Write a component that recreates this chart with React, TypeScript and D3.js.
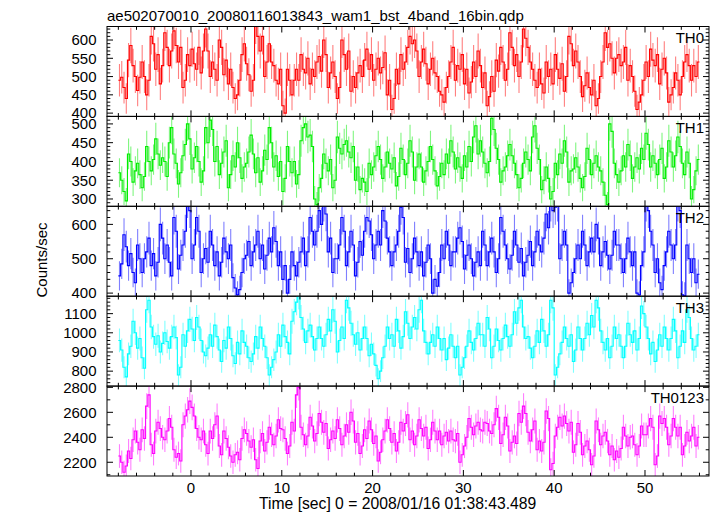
import React from "react";
import * as d3 from "d3";

// ---- data (counts/sec, 0.25 s bins starting at t = -8 s) ----
const TIME_START = -8;
const BIN_SEC = 0.25;

const TH0 = [
  490, 498, 470, 440, 545, 585, 530, 500, 462, 498, 540, 500, 450, 490, 610, 590, 520, 560, 480, 530,
  620, 580, 530, 570, 625, 585, 540, 580, 470, 490, 560, 530, 575, 535, 520, 580, 510, 570, 630, 570,
  500, 540, 520, 490, 600, 580, 505, 545, 480, 520, 470, 440, 450, 490, 560, 590, 535, 505, 460, 490,
  640, 610, 570, 610, 500, 540, 590, 540, 530, 490, 480, 520, 420, 400, 520, 490, 450, 490, 520, 490,
  560, 520, 510, 550, 480, 520, 500, 540, 555, 515, 600, 560, 470, 510, 540, 500, 440, 470, 600, 560,
  520, 570, 460, 500, 470, 510, 530, 500, 545, 575, 520, 560, 490, 520, 550, 510, 525, 565, 450, 490,
  410, 440, 520, 480, 560, 520, 540, 580, 610, 590, 600, 570, 500, 540, 575, 535, 480, 520, 550, 510,
  500, 460, 450, 430, 470, 500, 540, 580, 490, 530, 520, 560, 480, 520, 455, 485, 540, 500, 570, 530,
  470, 510, 420, 445, 500, 460, 545, 515, 580, 540, 490, 520, 620, 580, 530, 560, 500, 540, 630, 605,
  580, 540, 520, 490, 470, 520, 480, 455, 540, 500, 520, 480, 560, 520, 495, 535, 460, 500, 610, 590,
  530, 570, 540, 500, 445, 475, 510, 470, 450, 490, 420, 440, 500, 540, 620, 580, 590, 550, 510, 550,
  560, 530, 540, 580, 490, 530, 500, 460, 410, 430, 450, 490, 540, 500, 575, 545, 530, 560, 480, 520,
  550, 510, 430, 450, 470, 510, 490, 450, 500, 540, 560, 530, 490, 530, 500, 540,
];

const TH1 = [
  370, 350, 320, 295, 420, 400, 345, 375, 395, 365, 330, 360, 440, 400, 375, 405, 460, 420, 390, 410,
  400, 360, 450, 490, 420, 395, 340, 370, 415, 445, 500, 460, 380, 410, 440, 400, 345, 375, 490, 450,
  510, 485, 400, 440, 365, 395, 425, 455, 330, 365, 415, 385, 450, 410, 355, 385, 395, 425, 470, 420,
  370, 410, 345, 375, 430, 405, 490, 450, 385, 415, 360, 400, 320, 355, 440, 400, 370, 400, 340, 365,
  455, 490, 500, 465, 470, 440, 300, 285, 330, 355, 420, 395, 375, 405, 330, 350, 465, 435, 420, 445,
  455, 425, 410, 440, 350, 385, 325, 355, 345, 320, 395, 365, 385, 415, 440, 405, 355, 385, 425, 395,
  380, 410, 335, 360, 435, 405, 365, 395, 455, 425, 350, 385, 420, 385, 345, 375, 400, 440, 405, 375,
  335, 360, 395, 365, 420, 395, 455, 425, 380, 410, 385, 355, 415, 385, 440, 400, 465, 495, 420, 455,
  425, 395, 370, 400, 515, 485, 435, 405, 345, 375, 385, 415, 445, 415, 395, 365, 330, 355, 395, 425,
  405, 375, 465, 495, 435, 405, 325, 350, 385, 355, 300, 320, 395, 365, 420, 395, 455, 425, 345, 375,
  380, 410, 385, 355, 330, 360, 435, 405, 365, 395, 415, 385, 375, 345, 310, 285, 500, 480, 395, 365,
  345, 375, 415, 385, 445, 415, 355, 385, 410, 380, 435, 405, 475, 445, 385, 415, 395, 365, 405, 435,
  355, 385, 455, 425, 385, 415, 465, 440, 395, 365, 425, 395, 300, 325, 375, 405,
];

const TH2 = [
  450, 485, 570, 535, 480, 515, 460, 430, 540, 500, 460, 500, 520, 560, 480, 515, 450, 490, 600, 560,
  500, 540, 490, 450, 620, 580, 470, 510, 540, 580, 670, 640, 500, 540, 620, 580, 460, 500, 530, 490,
  580, 540, 480, 520, 450, 490, 560, 520, 500, 540, 445, 415, 395, 410, 460, 500, 510, 550, 480, 520,
  540, 580, 500, 540, 470, 510, 560, 520, 590, 550, 480, 520, 440, 480, 400, 440, 520, 480, 450, 490,
  520, 560, 480, 520, 620, 580, 540, 580, 640, 600, 660, 630, 520, 560, 460, 500, 500, 540, 620, 580,
  480, 520, 580, 540, 450, 490, 550, 510, 580, 620, 610, 570, 500, 540, 580, 540, 640, 610, 560, 520,
  480, 520, 540, 580, 650, 620, 490, 530, 460, 500, 560, 520, 480, 520, 450, 490, 540, 500, 400, 440,
  420, 460, 540, 500, 580, 540, 480, 520, 520, 560, 590, 550, 470, 510, 540, 500, 450, 490, 520, 480,
  580, 540, 480, 520, 560, 520, 460, 500, 620, 580, 540, 500, 470, 510, 580, 540, 490, 530, 450, 490,
  510, 550, 480, 520, 580, 540, 520, 560, 630, 590, 660, 640, 650, 660, 500, 540, 580, 540, 400, 430,
  460, 500, 540, 500, 580, 540, 480, 520, 560, 520, 600, 560, 480, 520, 550, 510, 470, 510, 580, 540,
  540, 500, 460, 500, 560, 520, 480, 520, 400, 395, 480, 520, 660, 640, 580, 540, 460, 500, 430, 410,
  480, 520, 580, 540, 500, 540, 660, 640, 395, 392, 540, 500, 460, 500, 430, 455,
];

const TH3 = [
  960, 910, 820, 770, 890, 930, 1060, 1000, 920, 970, 870, 815, 1120, 1170, 1030, 980, 940, 985, 900, 945,
  1000, 955, 920, 980, 1030, 975, 780, 820, 990, 930, 1010, 1070, 1020, 960, 1080, 1030, 960, 900, 880, 920,
  990, 930, 1040, 980, 910, 850, 960, 920, 1030, 970, 880, 840, 950, 890, 1010, 950, 930, 870, 850, 890,
  980, 920, 1030, 970, 930, 870, 780, 820, 860, 900, 990, 930, 1040, 980, 950, 890, 1060, 1110, 1160, 1190,
  1080, 1020, 950, 1010, 1040, 980, 910, 970, 1030, 970, 930, 990, 1070, 1010, 1120, 1060, 900, 960, 1030, 970,
  1170, 1130, 1050, 990, 940, 1000, 910, 970, 1030, 970, 880, 940, 890, 830, 760, 800, 870, 930, 1030, 970,
  990, 930, 1070, 1010, 920, 980, 1110, 1050, 970, 1030, 1080, 1020, 1120, 1170, 1010, 950, 890, 950, 990, 930,
  1030, 970, 910, 970, 860, 920, 990, 930, 870, 930, 780, 820, 870, 930, 1010, 950, 910, 970, 1050, 990,
  990, 930, 1080, 1020, 870, 930, 1020, 960, 910, 970, 1040, 980, 930, 990, 1110, 1050, 1130, 1170, 1030, 970,
  980, 920, 870, 930, 1010, 950, 1070, 1010, 930, 990, 1170, 1130, 780, 820, 890, 950, 1030, 970, 930, 990,
  850, 910, 1030, 970, 910, 970, 1050, 990, 1090, 1030, 1170, 1130, 1010, 950, 910, 970, 870, 930, 1030, 970,
  990, 930, 870, 930, 1050, 990, 950, 1010, 910, 970, 1140, 1100, 1030, 970, 890, 950, 850, 910, 990, 930,
  1030, 970, 910, 970, 1070, 1010, 870, 930, 1010, 950, 1120, 1080, 970, 910, 930, 990,
];

const TH0123 = [
  2250, 2200, 2120, 2170, 2290, 2230, 2380, 2450, 2360, 2300, 2460, 2390, 2650, 2740, 2340, 2270, 2450, 2520, 2470, 2400,
  2380, 2450, 2550, 2480, 2300, 2240, 2270, 2210, 2500, 2570, 2620, 2690, 2640, 2570, 2470, 2400, 2380, 2450, 2340, 2270,
  2450, 2390, 2500, 2570, 2330, 2260, 2450, 2390, 2320, 2250, 2200, 2260, 2280, 2220, 2390, 2460, 2430, 2370, 2320, 2380,
  2220, 2150, 2370, 2430, 2290, 2360, 2480, 2420, 2340, 2410, 2540, 2470, 2460, 2390, 2270, 2330, 2520, 2450, 2740, 2800,
  2480, 2420, 2340, 2410, 2560, 2490, 2370, 2430, 2590, 2520, 2440, 2510, 2310, 2380, 2450, 2390, 2540, 2470, 2340, 2410,
  2500, 2440, 2600, 2530, 2360, 2430, 2270, 2330, 2460, 2390, 2530, 2460, 2350, 2410, 2210, 2280, 2380, 2450, 2540, 2470,
  2360, 2430, 2290, 2360, 2520, 2450, 2510, 2580, 2380, 2450, 2340, 2410, 2540, 2470, 2410, 2480, 2310, 2380, 2520, 2450,
  2380, 2450, 2340, 2410, 2440, 2370, 2450, 2380, 2370, 2430, 2200, 2260, 2330, 2400, 2550, 2480, 2420, 2490, 2520, 2460,
  2450, 2520, 2510, 2450, 2430, 2500, 2630, 2560, 2350, 2420, 2560, 2490, 2290, 2360, 2410, 2350, 2590, 2520, 2650, 2590,
  2440, 2370, 2460, 2530, 2300, 2370, 2290, 2360, 2610, 2550, 2140, 2190, 2410, 2480, 2560, 2490, 2570, 2510, 2450, 2520,
  2280, 2340, 2510, 2440, 2260, 2330, 2370, 2300, 2180, 2250, 2530, 2460, 2340, 2410, 2440, 2370, 2260, 2330, 2220, 2290,
  2240, 2310, 2480, 2410, 2330, 2400, 2410, 2340, 2260, 2330, 2490, 2420, 2420, 2490, 2550, 2480, 2180, 2250, 2570, 2510,
  2550, 2480, 2340, 2410, 2550, 2480, 2410, 2480, 2260, 2330, 2440, 2370, 2410, 2480, 2330, 2400,
];

const SERIES = [TH0, TH1, TH2, TH3, TH0123];
const PANEL_NAMES = ["TH0", "TH1", "TH2", "TH3", "TH0123"];
const PANEL_COLORS = ["#ff0000", "#00ee00", "#0000ff", "#00ffff", "#ff00ff"];
const Y_DOMAINS: [number, number][] = [
  [391, 637],
  [280.5, 520],
  [391, 652.6],
  [722, 1191],
  [2090, 2810],
];
const Y_MAJOR_STEP = [50, 50, 100, 100, 200];
const Y_MINOR_STEP = [10, 10, 20, 20, 100];
const X_DOMAIN: [number, number] = [-9.25, 57.05];
const X_MAJOR_STEP = 10;
const X_MINOR_STEP = 2;

const TITLE = "ae502070010_20080116013843_wam1_bst_4band_16bin.qdp";
const X_LABEL = "Time [sec] 0 = 2008/01/16 01:38:43.489";
const Y_LABEL = "Counts/sec";

// ---- layout ----
const W = 717;
const H = 516;
const LEFT = 107;
const RIGHT = 709;
const TOP = 26.5;
const PANEL_H = 89.9;
const FONT = "'Liberation Sans', Arial, Helvetica, sans-serif";
const FS = 15;
const MAJ = 6;
const MIN = 3.3;

function ticksBetween(lo: number, hi: number, step: number) {
  const out: number[] = [];
  const start = Math.ceil(lo / step - 1e-9) * step;
  for (let v = start; v <= hi + 1e-9; v += step) out.push(Math.round(v * 1000) / 1000);
  return out;
}

export default function App() {
  const x = d3.scaleLinear().domain(X_DOMAIN).range([LEFT, RIGHT]);
  const xMajor = ticksBetween(X_DOMAIN[0], X_DOMAIN[1], X_MAJOR_STEP);
  const xMinor = ticksBetween(X_DOMAIN[0], X_DOMAIN[1], X_MINOR_STEP).filter(
    (v) => Math.abs(v % X_MAJOR_STEP) > 1e-6
  );

  const panels = SERIES.map((vals, p) => {
    const top = TOP + p * PANEL_H;
    const bottom = top + PANEL_H;
    const y = d3.scaleLinear().domain(Y_DOMAINS[p]).range([bottom, top]);
    const yMajor = ticksBetween(Y_DOMAINS[p][0], Y_DOMAINS[p][1], Y_MAJOR_STEP[p]);
    const yMinor = ticksBetween(Y_DOMAINS[p][0], Y_DOMAINS[p][1], Y_MINOR_STEP[p]).filter(
      (v) => Math.abs(v % Y_MAJOR_STEP[p]) > 1e-6
    );
    const pts: [number, number][] = vals.map((v, i) => [TIME_START + i * BIN_SEC, v]);
    pts.push([TIME_START + vals.length * BIN_SEC, vals[vals.length - 1]]);
    const line = d3
      .line<[number, number]>()
      .x((d) => x(d[0]))
      .y((d) => y(d[1]))
      .curve(d3.curveStepAfter);
    const color = PANEL_COLORS[p];
    const clipId = `clip${p}`;
    return (
      <g key={p}>
        <defs>
          <clipPath id={clipId}>
            <rect x={LEFT} y={top} width={RIGHT - LEFT} height={PANEL_H} />
          </clipPath>
        </defs>
        <g clipPath={`url(#${clipId})`}>
          {vals.map((v, i) => {
            const err = Math.sqrt(v / BIN_SEC);
            const tc = TIME_START + (i + 0.5) * BIN_SEC;
            return (
              <line
                key={i}
                x1={x(tc)}
                x2={x(tc)}
                y1={y(v - err)}
                y2={y(v + err)}
                stroke={color}
                strokeOpacity={0.5}
                strokeWidth={1.1}
              />
            );
          })}
          <path d={line(pts) || ""} fill="none" stroke={color} strokeWidth={1.1} />
        </g>
        <rect x={LEFT} y={top} width={RIGHT - LEFT} height={PANEL_H} fill="none" stroke="#000" strokeWidth={1} />
        {xMajor.map((t) => (
          <g key={"xM" + t}>
            <line x1={x(t)} x2={x(t)} y1={top} y2={top + MAJ} stroke="#000" />
            <line x1={x(t)} x2={x(t)} y1={bottom} y2={bottom - MAJ} stroke="#000" />
          </g>
        ))}
        {xMinor.map((t) => (
          <g key={"xm" + t}>
            <line x1={x(t)} x2={x(t)} y1={top} y2={top + MIN} stroke="#000" />
            <line x1={x(t)} x2={x(t)} y1={bottom} y2={bottom - MIN} stroke="#000" />
          </g>
        ))}
        {yMajor.map((v) => (
          <g key={"yM" + v}>
            <line x1={LEFT} x2={LEFT + MAJ} y1={y(v)} y2={y(v)} stroke="#000" />
            <line x1={RIGHT} x2={RIGHT - MAJ} y1={y(v)} y2={y(v)} stroke="#000" />
            <text x={LEFT - 10.5} y={y(v) + 5.3} textAnchor="end" fontSize={FS} fontFamily={FONT} fill="#000">
              {v}
            </text>
          </g>
        ))}
        {yMinor.map((v) => (
          <g key={"ym" + v}>
            <line x1={LEFT} x2={LEFT + MIN} y1={y(v)} y2={y(v)} stroke="#000" />
            <line x1={RIGHT} x2={RIGHT - MIN} y1={y(v)} y2={y(v)} stroke="#000" />
          </g>
        ))}
        <text x={704} y={top + 16.5} textAnchor="end" fontSize={FS} fontFamily={FONT} fill="#000">
          {PANEL_NAMES[p]}
        </text>
      </g>
    );
  });

  const bottomAxis = TOP + 5 * PANEL_H;

  return (
    <svg
      width={W}
      height={H}
      viewBox={`0 0 ${W} ${H}`}
      style={{ position: "absolute", left: 0, top: 0, background: "#fff" }}
    >
      <rect x={0} y={0} width={W} height={H} fill="#fff" />
      <text x={LEFT} y={21} fontSize={FS} fontFamily={FONT} fill="#000">
        {TITLE}
      </text>
      {panels}
      {xMajor.map((t) => (
        <text key={"xl" + t} x={x(t)} y={bottomAxis + 17} textAnchor="middle" fontSize={FS} fontFamily={FONT} fill="#000">
          {t}
        </text>
      ))}
      <text x={259} y={509} fontSize={15.7} fontFamily={FONT} fill="#000">
        {X_LABEL}
      </text>
      <text
        transform={`translate(46.5, 260) rotate(-90)`}
        textAnchor="middle"
        fontSize={FS}
        fontFamily={FONT}
        fill="#000"
      >
        {Y_LABEL}
      </text>
    </svg>
  );
}
